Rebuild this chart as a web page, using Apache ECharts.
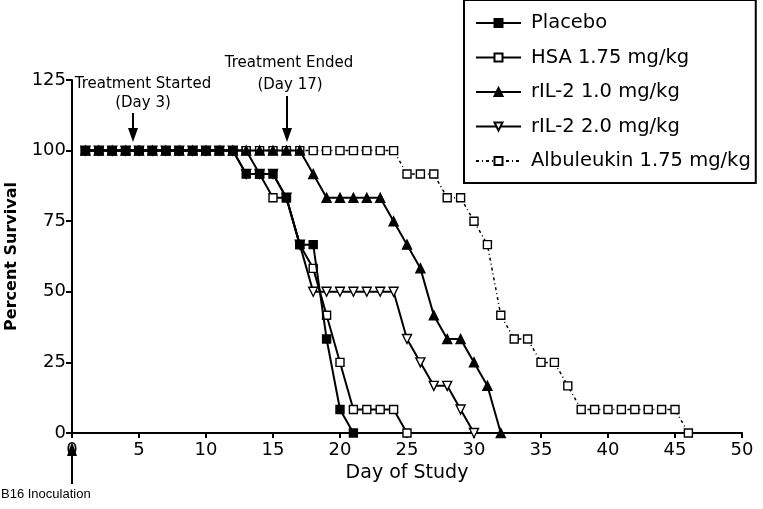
<!DOCTYPE html>
<html>
<head>
<meta charset="utf-8">
<script src="https://cdn.jsdelivr.net/npm/echarts@6/dist/echarts.min.js"></script>
<style>
html,body{margin:0;padding:0;background:#fff;}
#chart{width:763px;height:509px;}
</style>
</head>
<body>
<div id="chart"></div>
<script>
// ---- data ----
const seriesNames = ['Placebo', 'HSA 1.75 mg/kg', 'rIL-2 1.0 mg/kg', 'rIL-2 2.0 mg/kg', 'Albuleukin 1.75 mg/kg'];

const placeboDays = [1,2,3,4,5,6,7,8,9,10,11,12,13,14,15,16,17,18,19,20,21];
const placeboVals = [100,100,100,100,100,100,100,100,100,100,100,100,91.7,91.7,91.7,83.3,66.7,66.7,33.3,8.3,0];

const hsaDays = [1,2,3,4,5,6,7,8,9,10,11,12,13,14,15,16,17,18,19,20,21,22,23,24,25];
const hsaVals = [100,100,100,100,100,100,100,100,100,100,100,100,100,91.7,83.3,83.3,66.7,58.3,41.7,25,8.3,8.3,8.3,8.3,0];

const il2LowDays = [1,2,3,4,5,6,7,8,9,10,11,12,13,14,15,16,17,18,19,20,21,22,23,24,25,26,27,28,29,30,31,32];
const il2LowVals = [100,100,100,100,100,100,100,100,100,100,100,100,100,100,100,100,100,91.7,83.3,83.3,83.3,83.3,83.3,75,66.7,58.3,41.7,33.3,33.3,25,16.7,0];

const il2HighDays = [1,2,3,4,5,6,7,8,9,10,11,12,13,14,15,16,17,18,19,20,21,22,23,24,25,26,27,28,29,30];
const il2HighVals = [100,100,100,100,100,100,100,100,100,100,100,100,91.7,91.7,91.7,83.3,66.7,50,50,50,50,50,50,50,33.3,25,16.7,16.7,8.3,0];

const albuDays = [1,2,3,4,5,6,7,8,9,10,11,12,13,14,15,16,17,18,19,20,21,22,23,24,25,26,27,28,29,30,31,32,33,34,35,36,37,38,39,40,41,42,43,44,45,46];
const albuVals = [100,100,100,100,100,100,100,100,100,100,100,100,100,100,100,100,100,100,100,100,100,100,100,100,91.7,91.7,91.7,83.3,83.3,75,66.7,41.7,33.3,33.3,25,25,16.7,8.3,8.3,8.3,8.3,8.3,8.3,8.3,8.3,0];

const xTicks = [0,5,10,15,20,25,30,35,40,45,50];
const yTicks = [0,25,50,75,100,125];

function pairs(xs, ys){ return xs.map((x,i)=>[x, ys[i]]); }

const FONT = '"DejaVu Sans", sans-serif';
const chart = echarts.init(document.getElementById('chart'), null, {renderer:'canvas'});

function mk(name, xs, ys, symbol, filled, rotate, dashed, z){
  return {
    name: name,
    type: 'line',
    data: pairs(xs, ys),
    symbol: symbol,
    symbolSize: symbol === 'triangle' ? 9 : 8,
    symbolRotate: rotate,
    showAllSymbol: true,
    z: z,
    clip: false,
    lineStyle: {color:'#000', width: dashed ? 1.5 : 2, type: dashed ? [3,3,1,3] : 'solid'},
    itemStyle: {color: filled ? '#000' : '#fff', borderColor:'#000', borderWidth: 1.4},
    emphasis: {disabled:true},
    animation: false
  };
}

const option = {
  animation: false,
  backgroundColor: '#fff',
  textStyle: {fontFamily: FONT, color:'#000'},
  grid: {left:72, right:21, top:80, bottom:76, containLabel:false, outerBoundsMode:'none'},
  legend: {
    orient: 'vertical',
    left: 464, top: 0,
    padding: [13, 5, 12, 11],
    itemGap: 14.5,
    itemWidth: 45, itemHeight: 10,
    borderColor: '#000', borderWidth: 2,
    backgroundColor: '#fff',
    textStyle: {fontFamily: FONT, fontSize: 19.5, lineHeight: 20, color:'#000', padding:[0,0,0,5]},
    data: seriesNames
  },
  xAxis: {
    type: 'value', min: 0, max: 50, interval: 5,
    name: 'Day of Study', nameLocation: 'middle', nameGap: 22,
    nameTextStyle: {fontFamily: FONT, fontSize: 19, color:'#000', verticalAlign:'top'},
    axisLine: {show:true, onZero:false, lineStyle:{color:'#000', width:2}},
    axisTick: {show:true, length:5, lineStyle:{color:'#000', width:2}},
    axisLabel: {fontFamily: FONT, fontSize: 18, color:'#000', margin: 8,
      formatter: v => (xTicks.indexOf(v) >= 0 ? String(v) : '')},
    splitLine: {show:false}
  },
  yAxis: {
    type: 'value', min: 0, max: 125, interval: 25,
    name: 'Percent Survival', nameLocation: 'middle', nameGap: 52,
    nameTextStyle: {fontFamily: FONT, fontSize: 16, fontWeight:'bold', color:'#000'},
    axisLine: {show:true, onZero:false, lineStyle:{color:'#000', width:2}},
    axisTick: {show:true, length:6, lineStyle:{color:'#000', width:2}},
    axisLabel: {fontFamily: FONT, fontSize: 18, color:'#000', margin: 6,
      formatter: v => (yTicks.indexOf(v) >= 0 ? String(v) : '')},
    splitLine: {show:false}
  },
  series: [
    mk(seriesNames[0], placeboDays, placeboVals, 'rect', true, 0, false, 10),
    mk(seriesNames[1], hsaDays, hsaVals, 'rect', false, 0, false, 6),
    mk(seriesNames[2], il2LowDays, il2LowVals, 'triangle', true, 0, false, 8),
    mk(seriesNames[3], il2HighDays, il2HighVals, 'triangle', false, 180, false, 7),
    mk(seriesNames[4], albuDays, albuVals, 'rect', false, 0, true, 5)
  ],
  graphic: [
    // Treatment started
    {type:'text', x:143, y:84, style:{text:'Treatment Started', fontFamily:'DejaVu Sans', fontSize:15, fill:'#000', align:'center', verticalAlign:'middle'}},
    {type:'text', x:143, y:103, style:{text:'(Day 3)', fontFamily:'DejaVu Sans', fontSize:15, fill:'#000', align:'center', verticalAlign:'middle'}},
    {type:'line', shape:{x1:133, y1:113, x2:133, y2:132}, style:{stroke:'#000', lineWidth:2}},
    {type:'polygon', shape:{points:[[128,128],[138,128],[133,142]]}, style:{fill:'#000'}},
    // Treatment ended
    {type:'text', x:289, y:63, style:{text:'Treatment Ended', fontFamily:'DejaVu Sans', fontSize:15, fill:'#000', align:'center', verticalAlign:'middle'}},
    {type:'text', x:290, y:85, style:{text:'(Day 17)', fontFamily:'DejaVu Sans', fontSize:15, fill:'#000', align:'center', verticalAlign:'middle'}},
    {type:'line', shape:{x1:287, y1:96, x2:287, y2:132}, style:{stroke:'#000', lineWidth:2}},
    {type:'polygon', shape:{points:[[282,128],[292,128],[287,142]]}, style:{fill:'#000'}},
    // B16 inoculation
    {type:'line', shape:{x1:72, y1:484, x2:72, y2:452}, style:{stroke:'#000', lineWidth:2}},
    {type:'polygon', shape:{points:[[67,456],[77,456],[72,442]]}, style:{fill:'#000'}},
    {type:'text', x:1, y:494, style:{text:'B16 Inoculation', fontFamily:'Liberation Sans', fontSize:13, fill:'#000', align:'left', verticalAlign:'middle'}}
  ]
};
chart.setOption(option);
</script>
</body>
</html>
